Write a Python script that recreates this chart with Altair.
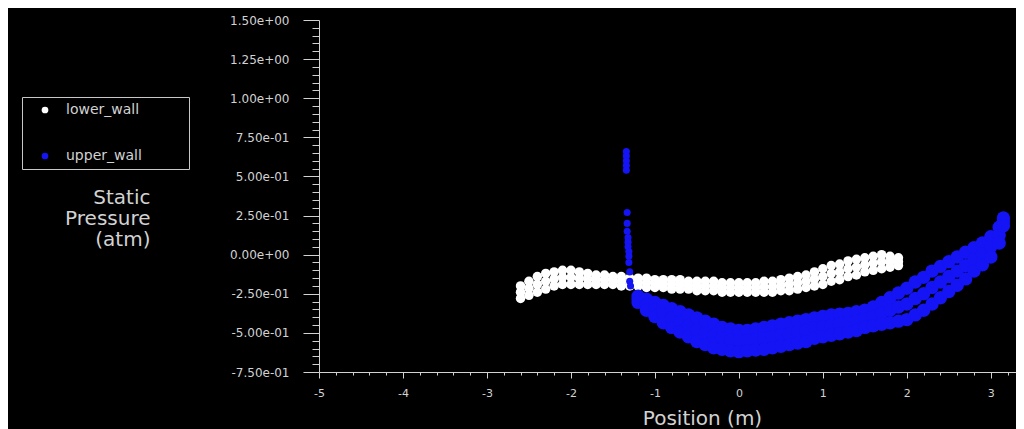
import altair as alt
import pandas as pd

# ---- data ----
lower_x = [-2.6, -2.5, -2.4, -2.3, -2.2, -2.1, -2.0, -1.9, -1.8, -1.7,
           -1.6, -1.5, -1.4, -1.3, -1.2, -1.1, -1.0, -0.9, -0.8, -0.7,
           -0.6, -0.5, -0.4, -0.3, -0.2, -0.1, 0.0, 0.1, 0.2, 0.3,
           0.4, 0.5, 0.6, 0.7, 0.8, 0.9, 1.0, 1.1, 1.2, 1.3,
           1.4, 1.5, 1.6, 1.7, 1.8, 1.9]
lower_top = [-0.20, -0.17, -0.14, -0.12, -0.11, -0.10, -0.10, -0.11, -0.12, -0.13,
             -0.13, -0.14, -0.14, -0.15, -0.15, -0.15, -0.16, -0.16, -0.16, -0.16,
             -0.17, -0.17, -0.17, -0.17, -0.18, -0.18, -0.18, -0.18, -0.18, -0.17,
             -0.17, -0.16, -0.15, -0.14, -0.13, -0.11, -0.09, -0.07, -0.06, -0.04,
             -0.03, -0.02, -0.01, 0.00, -0.01, -0.02]
lower_mid = [-0.24, -0.215, -0.19, -0.17, -0.155, -0.145, -0.145, -0.15, -0.155, -0.16,
             -0.16, -0.165, -0.17, -0.175, -0.175, -0.18, -0.185, -0.185, -0.19, -0.19,
             -0.195, -0.20, -0.20, -0.20, -0.21, -0.21, -0.21, -0.21, -0.21, -0.205,
             -0.205, -0.195, -0.19, -0.18, -0.17, -0.155, -0.14, -0.12, -0.11, -0.09,
             -0.08, -0.065, -0.055, -0.045, -0.045, -0.045]
lower_bot = [-0.28, -0.26, -0.24, -0.22, -0.20, -0.19, -0.19, -0.19, -0.19, -0.19,
             -0.19, -0.19, -0.20, -0.20, -0.20, -0.21, -0.21, -0.21, -0.22, -0.22,
             -0.22, -0.23, -0.23, -0.23, -0.24, -0.24, -0.24, -0.24, -0.24, -0.24,
             -0.24, -0.23, -0.23, -0.22, -0.21, -0.20, -0.19, -0.17, -0.16, -0.14,
             -0.13, -0.11, -0.10, -0.09, -0.08, -0.07]

upper_x = [-1.2, -1.1, -1.0, -0.9, -0.8, -0.7, -0.6, -0.5, -0.4, -0.3,
           -0.2, -0.1, 0.0, 0.1, 0.2, 0.3, 0.4, 0.5, 0.6, 0.7,
           0.8, 0.9, 1.0, 1.1, 1.2, 1.3, 1.4, 1.5, 1.6, 1.7,
           1.8, 1.9, 2.0, 2.1, 2.2, 2.3, 2.4, 2.5, 2.6, 2.7,
           2.8, 2.9, 3.0, 3.1, 3.15]
upper_top = [-0.265, -0.285, -0.305, -0.325, -0.345, -0.365, -0.385, -0.405, -0.425, -0.445,
             -0.465, -0.475, -0.485, -0.485, -0.475, -0.465, -0.455, -0.445, -0.435, -0.425,
             -0.415, -0.405, -0.395, -0.385, -0.38, -0.375, -0.365, -0.355, -0.335, -0.305,
             -0.275, -0.245, -0.215, -0.175, -0.145, -0.105, -0.075, -0.045, -0.015, 0.015,
             0.045, 0.075, 0.115, 0.175, 0.235]
upper_mid = [-0.285, -0.32, -0.35, -0.38, -0.405, -0.43, -0.455, -0.48, -0.50, -0.52,
             -0.535, -0.545, -0.55, -0.55, -0.54, -0.535, -0.525, -0.515, -0.505, -0.495,
             -0.485, -0.47, -0.46, -0.45, -0.44, -0.435, -0.425, -0.41, -0.395, -0.375,
             -0.355, -0.335, -0.315, -0.28, -0.25, -0.21, -0.175, -0.14, -0.105, -0.07,
             -0.03, 0.005, 0.05, 0.125, 0.21]
upper_bot = [-0.305, -0.355, -0.395, -0.435, -0.465, -0.495, -0.525, -0.555, -0.575, -0.595,
             -0.605, -0.615, -0.62, -0.615, -0.61, -0.605, -0.595, -0.585, -0.575, -0.565,
             -0.555, -0.535, -0.525, -0.515, -0.505, -0.495, -0.485, -0.465, -0.455, -0.445,
             -0.435, -0.425, -0.415, -0.385, -0.355, -0.315, -0.275, -0.235, -0.195, -0.155,
             -0.105, -0.065, -0.015, 0.075, 0.185]

spike_x = [-1.34, -1.34, -1.34, -1.34, -1.34, -1.33, -1.33, -1.33, -1.32,
           -1.32, -1.32, -1.31, -1.31, -1.31, -1.30, -1.30, -1.29]
spike_y = [0.66, 0.63, 0.60, 0.57, 0.54, 0.27, 0.20, 0.15, 0.11,
           0.08, 0.05, 0.02, -0.01, -0.05, -0.11, -0.17, -0.20]

series_names = ["lower_wall", "upper_wall"]
series_colors = ["#ffffff", "#1414f5"]

x_tick_values = [round(-5 + 0.2 * i, 1) for i in range(42)]
y_tick_values = [round(-0.75 + 0.05 * i, 2) for i in range(46)]

# ---- tables ----
lower_rows = []
for x, t, m, b in zip(lower_x, lower_top, lower_mid, lower_bot):
    for y in (t, m, b):
        lower_rows.append({"x": x, "y": y, "wall": "lower_wall"})
upper_rows = []
for x, t, m, b in zip(upper_x, upper_top, upper_mid, upper_bot):
    for y in (t, m, b):
        upper_rows.append({"x": x, "y": y, "wall": "upper_wall"})
spike_rows = [{"x": x, "y": y, "wall": "upper_wall"} for x, y in zip(spike_x, spike_y)]

df_lower = pd.DataFrame(lower_rows)
df_upper = pd.DataFrame(upper_rows)
df_spike = pd.DataFrame(spike_rows)

FONT = "DejaVu Sans"
GREY = "#d2d2d2"

is_int_x = "abs(datum.value - round(datum.value)) < 0.001"
is_major_y = "abs(datum.value * 4 - round(datum.value * 4)) < 0.001"

x_enc = alt.X(
    "x:Q",
    scale=alt.Scale(domain=[-5, 3.3], nice=False, zero=False),
    axis=alt.Axis(
        values=x_tick_values,
        labelExpr=f"{is_int_x} ? '' + round(datum.value) : ''",
        tickSize={"condition": {"test": is_int_x, "value": 6}, "value": 3},
        labelPadding=9,
        labelFlush=False,
        labelOverlap=False,
        grid=False,
        domainColor=GREY,
        tickColor=GREY,
        labelColor=GREY,
        labelFont=FONT,
        labelFontSize=11,
        title="Position (m)",
        titleFont=FONT,
        titleFontSize=20,
        titleFontWeight="normal",
        titleColor=GREY,
        titleX=383,
        titleY=52,
        titleAlign="center",
        titleBaseline="alphabetic",
    ),
)

y_enc = alt.Y(
    "y:Q",
    scale=alt.Scale(domain=[-0.75, 1.5], nice=False, zero=False),
    axis=alt.Axis(
        values=y_tick_values,
        labelExpr=(
            f"{is_major_y} ? replace(replace(replace(format(datum.value, '.2e'), 'e+', 'e+0'), 'e-', 'e-0'), '\u2212', '-') : ''"
        ),
        tickSize={"condition": {"test": is_major_y, "value": 16}, "value": 7},
        labelPadding=14,
        labelOverlap=False,
        labelFlush=False,
        grid=False,
        domainColor=GREY,
        tickColor=GREY,
        labelColor=GREY,
        labelFont=FONT,
        labelFontSize=12,
        title=["Static", "Pressure", "(atm)"],
        titleFont=FONT,
        titleFontSize=20,
        titleFontWeight="normal",
        titleColor=GREY,
        titleAngle=0,
        titleAlign="right",
        titleBaseline="top",
        titleLineHeight=21,
        titleX=-169,
        titleY=167,
    ),
)

color_enc = alt.Color(
    "wall:N",
    scale=alt.Scale(domain=series_names, range=series_colors),
    legend=alt.Legend(
        title=None,
        orient="none",
        legendX=-297,
        legendY=77,
        padding=6,
        rowPadding=32,
        symbolType="circle",
        symbolSize=45,
        symbolOffset=10,
        symbolStrokeWidth=0,
        labelOffset=14,
        labelColor=GREY,
        labelFont=FONT,
        labelFontSize=14,
        labelExpr="datum.label + '\u2800\u2800\u2800\u2800'",
        strokeColor="#c8c8c8",
    ),
)

lower = alt.Chart(df_lower).mark_circle(size=90, opacity=1).encode(x=x_enc, y=y_enc, color=color_enc)
upper = alt.Chart(df_upper).mark_circle(size=180, opacity=1).encode(x=x_enc, y=y_enc, color=color_enc)
spike = alt.Chart(df_spike).mark_circle(size=50, opacity=1).encode(x=x_enc, y=y_enc, color=color_enc)

chart = (
    alt.layer(lower, upper, spike)
    .properties(
        width=697,
        height=352,
        autosize=alt.AutoSizeParams(type="none"),
        padding={"left": 311, "top": 12, "right": 0, "bottom": 57},
        background="#000000",
    )
    .configure_view(stroke=None)
)

chart.save("out.html", embed_options={"renderer": "svg", "actions": False})
